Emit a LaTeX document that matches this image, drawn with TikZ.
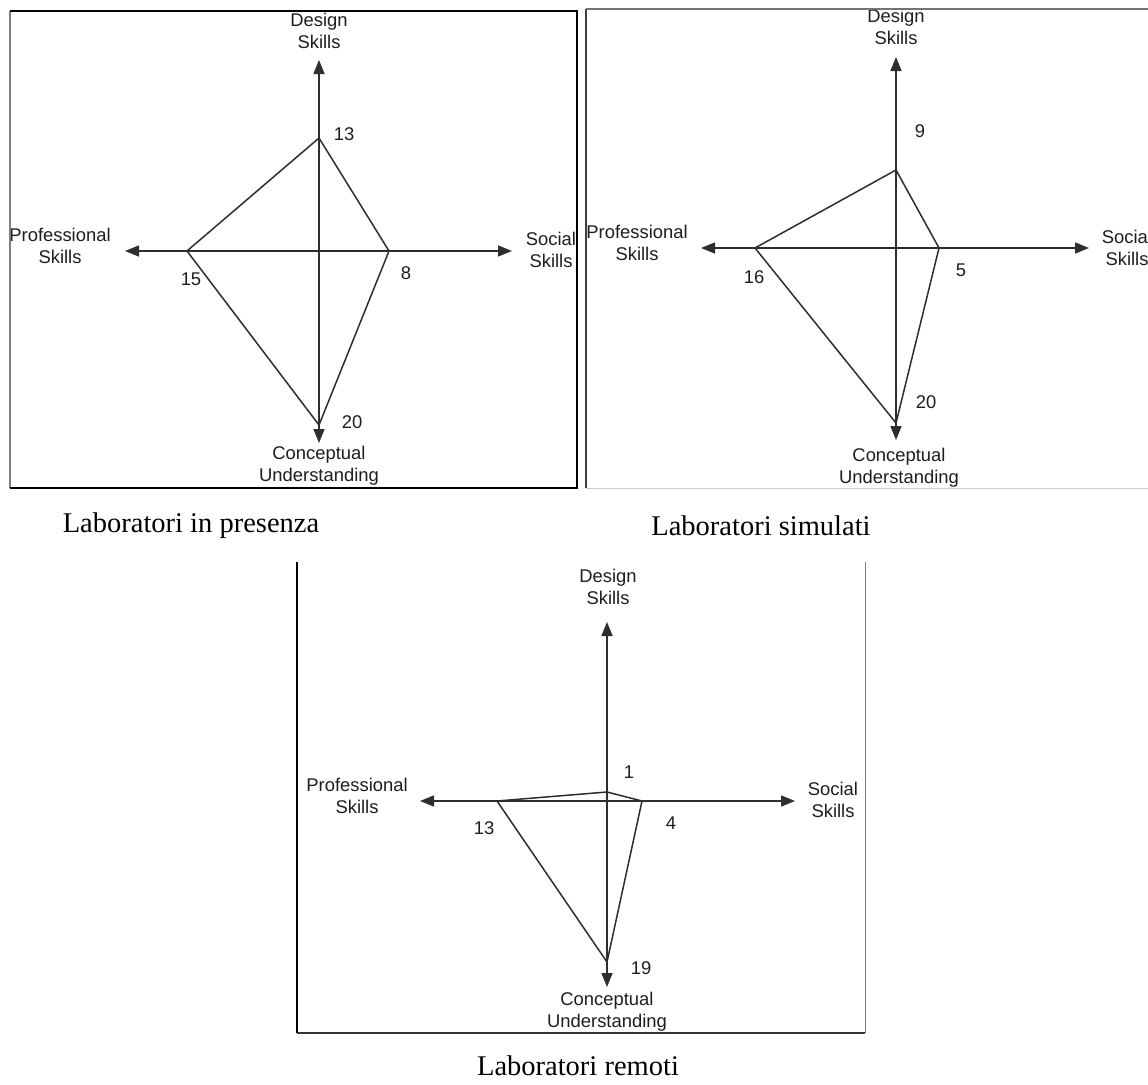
\documentclass[tikz,border=0pt]{standalone}
\usepackage{fontspec}
\setmainfont{Liberation Serif}
\newfontfamily\chartfont{Liberation Sans}
\usetikzlibrary{arrows.meta}
\definecolor{ink}{HTML}{1E1E1E}
\definecolor{axisgray}{HTML}{2E2E2E}
\begin{document}
\begin{tikzpicture}[x=1pt,y=-1pt,
  axis/.style={draw=axisgray, line width=1.5pt,
    {Triangle[length=14pt,width=11pt]}-{Triangle[length=14pt,width=11pt]}},
  kite/.style={draw=axisgray, line width=1.5pt, line join=miter},
  lbl/.style={font=\chartfont\fontsize{18.4}{22}\selectfont, text=ink, align=center, inner sep=0pt},
  val/.style={font=\chartfont\fontsize{18.4}{22}\selectfont, text=ink, inner sep=0pt},
  caption/.style={font=\fontsize{28.5}{32}\selectfont, text=black, inner sep=0pt}]
\useasboundingbox (0,0) rectangle (1148,1084);
\fill[white] (0,0) rectangle (1148,1084);

% ---------- chart 1: Laboratori in presenza ----------
\coordinate (u1) at (319,60);
\coordinate (d1) at (319,443);
\coordinate (l1) at (125,251);
\coordinate (r1) at (512,251);
\coordinate (pd1) at (319,138);
\coordinate (pp1) at (187,251);
\coordinate (ps1) at (389,251);
\coordinate (pc1) at (319,425);
\draw[axis] (l1) -- (r1);
\draw[axis] (u1) -- (d1);
\draw[kite] (pd1) -- (pp1) -- (pc1) -- (ps1) -- cycle;
\node[lbl] (des1) at (319,31) {Design\\Skills};
\node[lbl] (pro1) at (60,246) {Professional\\Skills};
\node[lbl] (soc1) at (551,250) {Social\\Skills};
\node[lbl] (con1) at (319,466) {Conceptual\\Understanding};
\node[val] (v1d) at (344,134) {13};
\node[val] (v1p) at (191,279) {15};
\node[val] (v1s) at (406,273) {8};
\node[val] (v1c) at (352,422) {20};
\draw[gray, line width=1.5pt] (10,11) -- (10,488);
\draw[black, line width=2.5pt, line join=miter] (10,11) -- (577,11) -- (577,488) -- (10,488);
\node[caption] (cap1) at (191,526) {Laboratori in presenza};

% ---------- chart 2: Laboratori simulati ----------
\coordinate (u2) at (896,57);
\coordinate (d2) at (896,440);
\coordinate (l2) at (701,248);
\coordinate (r2) at (1089,248);
\coordinate (pd2) at (896,170);
\coordinate (pp2) at (755,248);
\coordinate (ps2) at (939,248);
\coordinate (pc2) at (896,423);
\draw[axis] (l2) -- (r2);
\draw[axis] (u2) -- (d2);
\draw[kite] (pd2) -- (pp2) -- (pc2) -- (ps2) -- cycle;
\node[lbl] (des2) at (896,27) {Design\\Skills};
\node[lbl] (pro2) at (637,243) {Professional\\Skills};
\node[lbl] (soc2) at (1127,247.5) {Social\\Skills};
\node[lbl] (con2) at (899,468) {Conceptual\\Understanding};
\node[val] (v2d) at (920,131) {9};
\node[val] (v2p) at (754,277) {16};
\node[val] (v2s) at (961,270) {5};
\node[val] (v2c) at (926,402) {20};
\draw[black!75, line width=2pt] (586,9) -- (586,488);
\draw[black!55, line width=1.5pt] (586,9) -- (1148,9);
\draw[black!20, line width=1pt] (586,488) -- (1148,488);
\node[caption] (cap2) at (761,526) {Laboratori simulati};

% ---------- chart 3: Laboratori remoti ----------
\coordinate (u3) at (607,622);
\coordinate (d3) at (607,987);
\coordinate (l3) at (420,801);
\coordinate (r3) at (795,801);
\coordinate (pd3) at (607,792);
\coordinate (pp3) at (497,801);
\coordinate (ps3) at (642,801);
\coordinate (pc3) at (607,962);
\draw[axis] (l3) -- (r3);
\draw[axis] (u3) -- (d3);
\draw[kite] (pd3) -- (pp3) -- (pc3) -- (ps3) -- cycle;
\node[lbl] (des3) at (608,586.5) {Design\\Skills};
\node[lbl] (pro3) at (357,796) {Professional\\Skills};
\node[lbl] (soc3) at (833,800) {Social\\Skills};
\node[lbl] (con3) at (607,1011.5) {Conceptual\\Understanding};
\node[val] (v3d) at (629,772) {1};
\node[val] (v3p) at (484,828) {13};
\node[val] (v3s) at (671,823) {4};
\node[val] (v3c) at (641,968) {19};
\draw[black, line width=2pt] (297,562) -- (297,1033);
\draw[black!80, line width=1.5pt] (297,1033) -- (865,1033);
\draw[black!50, line width=1pt] (865,562) -- (865,1033);
\node[caption] (cap3) at (578,1066) {Laboratori remoti};
\end{tikzpicture}
\end{document}
